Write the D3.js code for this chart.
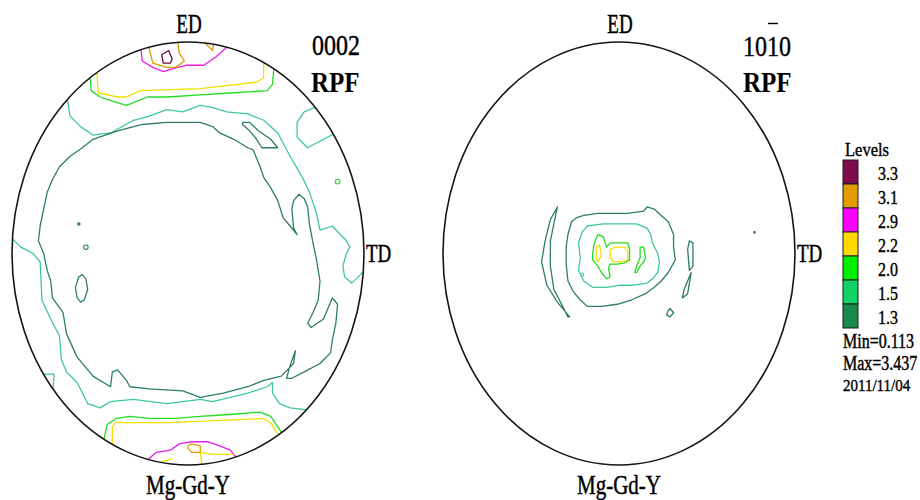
<!DOCTYPE html>
<html><head><meta charset="utf-8">
<script src="https://cdn.jsdelivr.net/npm/d3@7"></script>
<style>html,body{margin:0;padding:0;background:#fff;} svg{display:block;}</style>
</head><body>
<svg id="chart" width="920" height="500"></svg>
<script>
// ---------- legend data ----------
const levelNames   = ["3.3","3.1","2.9","2.2","2.0","1.5","1.3"];
const legendColors = ["#7c0c4c","#e09c00","#ff00ff","#ffd800","#00ee00","#14d264","#178a4c"];
const lineColors   = ["#6a0a44","#d9a000","#e81ee8","#f2e000","#22dd22","#3ec99c","#2f7c6c"];
const statLines    = ["Min=0.113","Max=3.437","2011/11/04"];
const poleTitles   = ["0002","1010"];
const axisLabels   = ["ED","TD"];
const alloyName    = "Mg-Gd-Y";

// ---------- contour data, pole-figure units (radius = 100; +v toward ED) ----------
// (0002) pole figure
const pf1_ring13 = [[-54,54],[-40,58],[-26,61],[-12,62],[-3,62],[7,62],[14,60],[18,57],[26,54],[34,50],[37,49],[41,41],[43,36],[47,31],[51,25],[54,17],[58,13],[62,9],[60,12],[59,21],[60,25],[63,28],[66,26],[68,22],[69,14],[71,5],[73,-3],[75,-13],[74,-22],[71,-28],[68,-33],[70,-35],[77,-31],[79,-27],[82,-21],[85,-24],[84,-33],[82,-41],[81,-47],[75,-52],[66,-56],[59,-59],[56,-59],[58,-53],[61,-46],[60,-52],[53,-58],[43,-60],[34,-63],[20,-66],[7,-68],[-3,-65],[-22,-64],[-33,-63],[-35,-60],[-40,-55],[-43,-56],[-44,-63],[-54,-58],[-63,-49],[-69,-38],[-71,-28],[-77,-21],[-78,-13],[-80,-8],[-82,0],[-85,6],[-84,13],[-82,21],[-80,29],[-77,35],[-73,41],[-67,46],[-60,50]];
const pf1_band15Top = [[-69,75],[-67,65],[-61,60],[-54,56],[-44,57],[-31,63],[-22,65],[-12,68],[-3,67],[7,70],[14,69],[22,67],[34,66],[43,63],[51,57],[58,46],[65,36],[69,29],[73,19],[75,11],[82,13],[90,6],[92,3],[90,0],[88,-6],[89,-11],[93,-14],[98,-10],[101,-7]];
const pf1_band15Bot = [[-101,8],[-95,3],[-88,0],[-84,-4],[-83,-22],[-78,-31],[-73,-39],[-72,-50],[-69,-56],[-63,-61],[-57,-71],[-50,-73],[-44,-70],[-31,-69],[-12,-71],[7,-69],[14,-70],[24,-68],[34,-66],[45,-63],[48,-61],[48,-66],[52,-71],[58,-73],[68,-74],[72,-74]];
const pf1_corner15 = [[-86,-57],[-76,-57],[-77,-67]];
const pf1_patch15 = [[75,70],[66,67],[62,62],[62,55],[68,50],[84,57]];
const pf1_islet13 = [[31,62],[35,62],[40,58],[47,54],[51,50],[42,50],[39,54],[35,58],[31,61]];
const pf1_blob13 = [[-64,-16],[-62,-11],[-60,-10],[-58,-12],[-57,-17],[-59,-22],[-61,-23],[-63,-21]];
const pf1_top20 = [[-56,88],[-55,77],[-50,74],[-43,72],[-35,70],[-23,74],[-12,74],[7,75],[26,76],[45,77],[48,80],[49,90]];
const pf1_top22 = [[-52,88],[-51,76],[-40,74],[-35,74],[-27,77],[7,78],[39,81],[43,83],[43,92]];
const pf1_top29 = [[-27,99],[-26,91],[-20,88],[-14,86],[-6,88],[-1,89],[9,89],[16,93],[24,99]];
const pf1_top31 = [[-23,100],[-20,90],[-12,88],[-7,88],[-2,91],[-5,95],[-6,101]];
const pf1_top31b = [[9,100],[14,96],[15,101]];
const pf1_top33 = [[-15,94],[-11,96],[-9,92],[-10,90],[-14,90]];
const pf1_bot20 = [[-48,-89],[-46,-81],[-41,-78],[-33,-77],[-22,-78],[-7,-78],[7,-77],[26,-76],[41,-75],[47,-77],[51,-82],[56,-88]];
const pf1_bot22 = [[-43,-92],[-43,-82],[-41,-80],[-12,-80],[16,-79],[43,-78],[47,-80],[53,-88]];
const pf1_bot29 = [[-25,-99],[-18,-94],[-10,-93],[-5,-90],[2,-89],[11,-89],[18,-91],[24,-93],[29,-98]];
const pf1_bot31 = [[0,-91],[2,-90],[7,-91],[7,-94],[5,-94],[2,-94],[0,-92]];
const pf1_bot22b = [[7,-94],[14,-95],[26,-95]];
const pf1_bot22c = [[7,-94],[8,-101]];
const pf1_bot22d = [[-17,-99],[-9,-97]];
const pf1_dots = [{u:-62,v:14,level:"1.3",r:1.2,fill:true},{u:-58,v:3,level:"1.3",r:2.2,fill:false},{u:85,v:34,level:"2.0",r:2.4,fill:false}];

// (10-10) pole figure
const pf2_arc13 = [[-35,22],[-39,16],[-42,6],[-44,-4],[-41,-15],[-35,-23],[-28,-30],[-29,-30],[-32,-25],[-37,-17],[-39,-6],[-39,6],[-36,18]];
const pf2_ring13 = [[-27,15],[-24,17],[-20,18],[-12,19],[-4,19],[5,19],[14,20],[16,22],[20,21],[24,18],[28,15],[31,9],[31,3],[32,-3],[28,-9],[24,-13],[20,-16],[15,-19],[7,-22],[-1,-24],[-10,-25],[-18,-25],[-22,-22],[-26,-18],[-29,-13],[-30,-5],[-30,3],[-29,9]];
const pf2_ring15 = [[-18,13],[-9,14],[1,14],[10,14],[16,12],[18,9],[19,5],[22,0],[23,-4],[22,-9],[19,-12],[16,-14],[8,-15],[1,-15],[-7,-16],[-15,-16],[-20,-13],[-23,-8],[-22,-2],[-23,5],[-21,10]];
const pf2_core20 = [[-9,8],[-7,3],[-5,5],[-1,5],[5,5],[6,2],[6,-3],[3,-4.5],[-1,-5],[-5,-5],[-6,-7],[-5,-11],[-7,-12],[-10,-9],[-12,-6],[-15,-3],[-15,0],[-14,5],[-12,9]];
const pf2_core22 = [[-5,2],[-2,3],[3,3],[5,1],[5,-3],[2,-4],[-3,-4],[-5,-2]];
const pf2_core22b = [[-13,3],[-11,4],[-10,-1],[-12,-4],[-13,-2]];
const pf2_side20 = [[12,3],[14,3],[15,-2],[14,-4],[12,-6],[10,-9],[9,-9],[10,-6],[12,-2]];
const pf2_arcR1 = [[40,6],[42,5],[42,-6],[40,-8],[39,2]];
const pf2_arcR2 = [[41,-9],[39,-13],[37,-17],[36,-21],[39,-19],[40,-14]];
const pf2_tiny13 = [[28,-27],[29,-26],[31,-28],[29,-30],[27,-29]];
const pf2_dots = [{u:-21,v:-10,level:"1.5",r:1.6,fill:false},{u:77,v:10,level:"1.3",r:0.9,fill:true}];

// tables built from the arrays above
const contours1 = [
  {pts:pf1_band15Top,level:"1.5",closed:false},{pts:pf1_band15Bot,level:"1.5",closed:false},
  {pts:pf1_corner15,level:"1.5",closed:false},{pts:pf1_patch15,level:"1.5",closed:false},
  {pts:pf1_ring13,level:"1.3",closed:true},{pts:pf1_islet13,level:"1.3",closed:true},
  {pts:pf1_blob13,level:"1.3",closed:true},
  {pts:pf1_top20,level:"2.0",closed:false},{pts:pf1_top22,level:"2.2",closed:false},
  {pts:pf1_top29,level:"2.9",closed:false},{pts:pf1_top31,level:"3.1",closed:false},
  {pts:pf1_top31b,level:"3.1",closed:false},{pts:pf1_top33,level:"3.3",closed:true},
  {pts:pf1_bot20,level:"2.0",closed:false},{pts:pf1_bot22,level:"2.2",closed:false},
  {pts:pf1_bot29,level:"2.9",closed:false},{pts:pf1_bot31,level:"3.1",closed:true},
  {pts:pf1_bot22b,level:"2.2",closed:false},{pts:pf1_bot22c,level:"2.2",closed:false},
  {pts:pf1_bot22d,level:"2.2",closed:false}
];
const contours2 = [
  {pts:pf2_arc13,level:"1.3",closed:true},{pts:pf2_ring13,level:"1.3",closed:true},
  {pts:pf2_ring15,level:"1.5",closed:true},{pts:pf2_core20,level:"2.0",closed:true},
  {pts:pf2_core22,level:"2.2",closed:true},{pts:pf2_core22b,level:"2.2",closed:true},
  {pts:pf2_side20,level:"2.0",closed:true},{pts:pf2_arcR1,level:"1.3",closed:true},
  {pts:pf2_arcR2,level:"1.3",closed:true},{pts:pf2_tiny13,level:"1.3",closed:true}
];

// ---------- drawing ----------
const svg = d3.select("#chart");
const FONT = "'Liberation Serif','Times New Roman',serif";
const lineColor = d3.scaleOrdinal().domain(levelNames).range(lineColors);
const boxColor = d3.scaleOrdinal().domain(levelNames).range(legendColors);

function txt(parent, s, x, y, size, sy, anchor, weight) {
  return parent.append("text")
    .attr("transform", `translate(${x},${y}) scale(1,${sy})`)
    .attr("text-anchor", anchor || "start")
    .attr("font-family", FONT).attr("font-size", size)
    .attr("font-weight", weight || "normal").attr("fill", "#000")
    .attr("stroke", "#000").attr("stroke-width", weight === "bold" ? 0 : 0.35)
    .text(s);
}

const figs = [
  {cx:188, contours:contours1, dots:pf1_dots, title:poleTitles[0], titleX:312, titleY:55, rpfX:311},
  {cx:619, contours:contours2, dots:pf2_dots, title:poleTitles[1], titleX:743, titleY:56, rpfX:743}
];
const CY = 253.5, RX = 176, RY = 211.5;

figs.forEach((f, i) => {
  const x = d3.scaleLinear().domain([-100,100]).range([f.cx-RX, f.cx+RX]);
  const y = d3.scaleLinear().domain([-100,100]).range([CY+RY, CY-RY]);
  const g = svg.append("g");
  g.append("clipPath").attr("id","clip"+i).append("ellipse")
    .attr("cx",x(0)).attr("cy",y(0)).attr("rx",x(100)-x(0)).attr("ry",y(-100)-y(0));
  const line = d3.line().x(d=>x(d[0])).y(d=>y(d[1]));
  const cg = g.append("g").attr("clip-path",`url(#clip${i})`);
  cg.selectAll("path").data(f.contours).join("path")
    .attr("d", d => line(d.pts) + (d.closed ? "Z" : ""))
    .attr("fill","none").attr("stroke", d=>lineColor(d.level))
    .attr("stroke-width",1.3).attr("stroke-linejoin","round");
  cg.selectAll("circle").data(f.dots).join("circle")
    .attr("cx", d=>x(d.u)).attr("cy", d=>y(d.v)).attr("r", d=>d.r)
    .attr("fill", d=>d.fill ? lineColor(d.level) : "none")
    .attr("stroke", d=>lineColor(d.level)).attr("stroke-width",1.1);
  g.append("ellipse").attr("cx",x(0)).attr("cy",y(0))
    .attr("rx",x(100)-x(0)).attr("ry",y(-100)-y(0))
    .attr("fill","none").attr("stroke","#151515").attr("stroke-width",1.6);
  // labels
  txt(g, axisLabels[0], x(0)+1, 33, 19, 1.4, "middle");
  txt(g, axisLabels[1], x(100)+2, 262, 19, 1.35, "start");
  txt(g, alloyName, x(0), 494, 21, 1.3, "middle");
  const t = txt(g, f.title, f.titleX, f.titleY, 24, 1.25, "start");
  txt(g, "RPF", f.rpfX, 92, 25, 1.2, "start", "bold");
  if (i === 1) {
    const n = t.node();
    const s = n.getStartPositionOfChar(2).x, e = n.getEndPositionOfChar(2).x;
    g.append("line").attr("x1", f.titleX+s+1).attr("x2", f.titleX+e-1)
      .attr("y1",23.5).attr("y2",23.5).attr("stroke","#000").attr("stroke-width",1.4);
  }
});

// legend
const lg = svg.append("g");
txt(lg, "Levels", 845, 156, 16.5, 1.2, "start");
const boxY = d3.scaleBand().domain(levelNames).range([160, 328]).padding(0);
lg.selectAll("rect").data(levelNames).join("rect")
  .attr("x",843).attr("y",d=>boxY(d)).attr("width",15).attr("height",boxY.bandwidth())
  .attr("fill",d=>boxColor(d)).attr("stroke","#1a1a1a").attr("stroke-width",1);
levelNames.forEach(d => txt(lg, d, 878, boxY(d)+20, 16, 1.2, "start"));
txt(lg, statLines[0], 843, 348, 16, 1.25, "start");
txt(lg, statLines[1], 843, 370, 16, 1.25, "start");
txt(lg, statLines[2], 843, 391, 15, 1.1, "start");
</script></body></html>
